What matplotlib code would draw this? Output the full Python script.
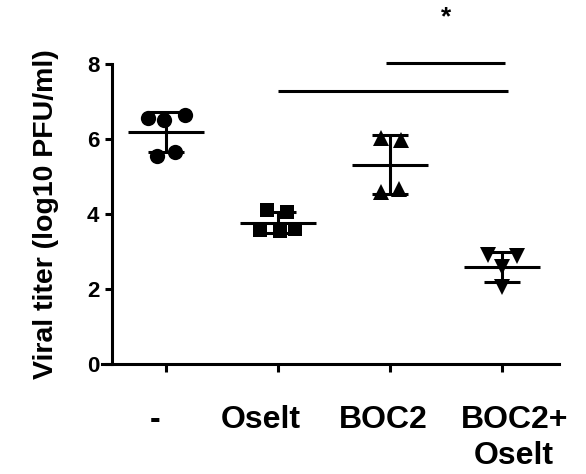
import numpy as np
import matplotlib
matplotlib.use("Agg")
import matplotlib.pyplot as plt
from matplotlib.transforms import ScaledTranslation

plt.rcParams['font.family'] = ['Liberation Sans', 'DejaVu Sans']
plt.rcParams['font.weight'] = 'bold'

# data (log10 PFU/ml)
groups = ['-', 'Oselt', 'BOC2', 'BOC2+\nOselt']
ctrl = [6.55, 6.51, 6.64, 5.55, 5.66]
oselt = [4.10, 4.07, 3.57, 3.55, 3.60]
boc2 = [6.02, 5.97, 4.60, 4.68]
boc2_oselt = [2.90, 2.88, 2.58, 2.05]
values = [ctrl, oselt, boc2, boc2_oselt]
markers = ['o', 's', '^', 'v']
sizes = [11, 10, 11, 11]

# horizontal scatter of the points (as drawn in the original)
spread = [[-0.16, -0.02, 0.17, -0.08, 0.08],
          [-0.10, 0.08, -0.16, 0.02, 0.15],
          [-0.08, 0.10, -0.08, 0.08],
          [-0.13, 0.13, 0.0, 0.0]]
# small sideways shift of each category label, in pixels
label_shift = [-11, -17, -7, 12]

# significance brackets: (x start, x end, y)
sig_lines = [(1.0, 3.05, 7.28), (1.96, 3.03, 8.04)]
star = (2.5, 9.25, '*')

fig = plt.figure(figsize=(5.86, 4.74), dpi=100)
ax = fig.add_axes([0.1735, 0.2314, 0.7808, 0.6335])

lw = 2.2
for i, (vals, m, ms) in enumerate(zip(values, markers, sizes)):
    vals = np.array(vals)
    xs = i + np.array(spread[i])
    ax.plot(xs, vals, linestyle='none', marker=m, markersize=ms,
            color='black', markeredgewidth=0, zorder=3)
    mean = vals.mean()
    sd = vals.std(ddof=1)
    ax.plot([i - 0.34, i + 0.34], [mean, mean], color='black', lw=lw,
            solid_capstyle='butt', zorder=2)
    ax.errorbar(i, mean, yerr=sd, fmt='none', ecolor='black', elinewidth=lw,
                capsize=13, capthick=lw, zorder=2)

for x0, x1, y in sig_lines:
    ax.plot([x0, x1], [y, y], color='black', lw=lw, clip_on=False,
            solid_capstyle='butt')
ax.text(star[0], star[1], star[2], ha='center', va='center', fontsize=19,
        fontweight='bold', clip_on=False)

ax.set_xlim(-0.574, 3.51)
ax.set_ylim(0, 8)
ax.spines['left'].set_position(('data', -0.485))
ax.spines['top'].set_visible(False)
ax.spines['right'].set_visible(False)
for s in ['left', 'bottom']:
    ax.spines[s].set_linewidth(lw)

ax.set_yticks([0, 2, 4, 6, 8])
ax.set_xticks(range(len(groups)))
ax.set_xticklabels(groups, fontsize=23, fontweight='bold',
                   multialignment='center', linespacing=1.3)
ax.tick_params(axis='y', length=5, width=lw, labelsize=16, pad=4)
ax.tick_params(axis='x', length=6, width=lw, pad=23)
for t in ax.get_yticklabels():
    t.set_fontweight('bold')
for t, dx in zip(ax.get_xticklabels(), label_shift):
    t.set_transform(t.get_transform() + ScaledTranslation(dx / 100, 0, fig.dpi_scale_trans))

ax.set_ylabel('Viral titer (log10 PFU/ml)', fontsize=20.5, fontweight='bold',
              labelpad=20)

fig.savefig('out.png', dpi=100)
